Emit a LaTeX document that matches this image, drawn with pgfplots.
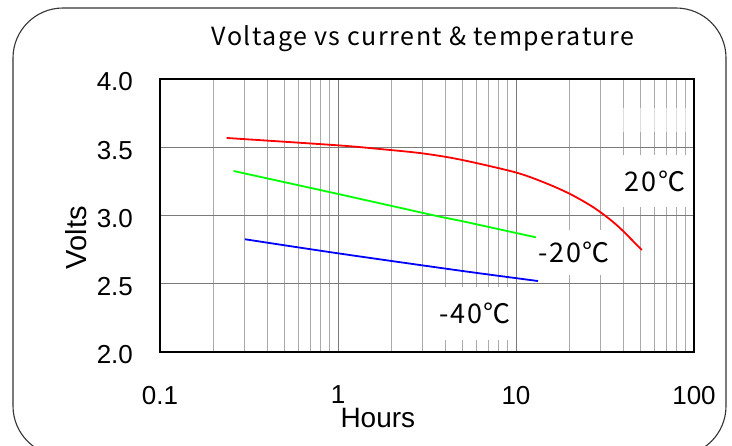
\documentclass[border=0pt]{standalone}
\usepackage{pgfplots}
\pgfplotsset{compat=1.18}
\usepackage{fontspec}
\setmainfont{Liberation Sans}
\newfontfamily\gothic[LetterSpace=6]{Noto Sans CJK JP}
\begin{document}
\begin{tikzpicture}[x=0.5pt,y=0.5pt]
  \useasboundingbox (0,0) rectangle (732,445);
  % rounded frame, bottom edge runs off the page
  \draw[black!80, line width=0.55pt, rounded corners=25pt] (13,437) rectangle (726,-11);
  \begin{axis}[
      at={(80pt,46.5pt)}, anchor=south west,
      scale only axis,
      width=267pt, height=136.5pt,
      xmode=log,
      xmin=0.1, xmax=100,
      ymin=2, ymax=4,
      xtick={0.1,1,10,100},
      xticklabels={0.1,1,10,100},
      minor xtick={0.2,0.3,0.4,0.5,0.6,0.7,0.8,0.9,2,3,4,5,6,7,8,9,20,30,40,50,60,70,80,90},
      ytick={2,2.5,3,3.5,4},
      yticklabel style={/pgf/number format/.cd,fixed,fixed zerofill,precision=1,/tikz/.cd},
      /pgf/number format/assume math mode=true,
      tick label style={font=\fontsize{13}{14}\selectfont},
      yticklabel style={anchor=east, xshift=-10pt, yshift=-1.5pt},
      xticklabel style={yshift=-13.5pt},
      major tick length=0pt, minor tick length=0pt,
      grid=both,
      major grid style={color=black!52, line width=0.5pt},
      minor grid style={color=black!33, line width=0.5pt},
      axis line style={black, line width=0.7pt},
      clip=false,
    ]
    \addplot[red, line width=0.9pt, smooth] coordinates {
      (0.237,3.568) (1,3.514) (1.72,3.487) (2.95,3.456) (4.85,3.410)
      (10,3.315) (14.9,3.234) (20.1,3.158) (26.1,3.075) (31.6,3.000)
      (38.4,2.908) (50.9,2.747)};
    \addplot[green, line width=0.9pt] coordinates {
      (0.259,3.326) (1,3.158) (3.74,2.991) (4.85,2.962) (12.95,2.840)};
    \addplot[blue, line width=0.9pt, smooth] coordinates {
      (0.300,2.826) (1,2.723) (4.85,2.596) (13.3,2.520)};

    \node[fill=white, opacity=0.6, inner sep=0, minimum width=33pt, minimum height=12pt] at (rel axis cs:0.927,0.850) {};
    \node[fill=white, inner sep=0, minimum width=35pt, minimum height=26pt, font=\gothic\fontsize{13.5}{14}\selectfont] at (rel axis cs:0.927,0.626) {20℃};
    \node[fill=white, inner sep=0, minimum width=37.5pt, minimum height=22.5pt, font=\gothic\fontsize{13.5}{14}\selectfont] at (rel axis cs:0.776,0.364) {-20℃};
    \node[fill=white, inner sep=0, minimum width=39.5pt, minimum height=26.5pt, font=\gothic\fontsize{13.5}{14}\selectfont] at (rel axis cs:0.590,0.141) {-40℃};

    \node[anchor=base, font=\gothic\fontsize{12.5}{14}\selectfont] at (rel axis cs:0.4925,1.1245) {Voltage vs current \& temperature};
    \node[anchor=base, font=\fontsize{14}{15}\selectfont] at (rel axis cs:0.408,-0.278) {Hours};
    \node[anchor=base, rotate=90, font=\fontsize{14.5}{15}\selectfont] at (rel axis cs:-0.1367,0.419) {Volts};
  \end{axis}
\end{tikzpicture}
\end{document}
